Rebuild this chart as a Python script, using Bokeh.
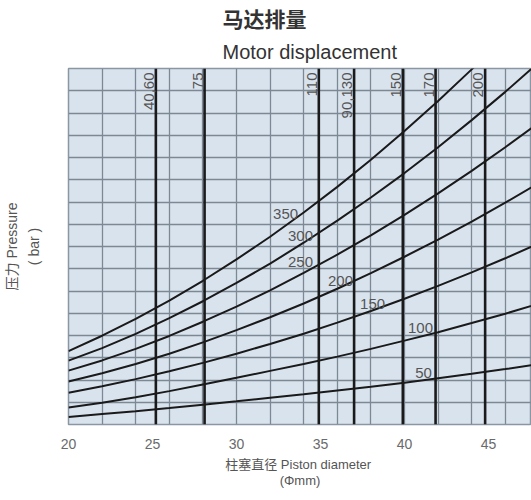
from bokeh.plotting import figure
from bokeh.models import FixedTicker, Range1d, Title, ColumnDataSource
from bokeh.core.properties import value
from bokeh.embed import file_html
from bokeh.resources import INLINE

# Piston diameter (mm)
diameter = [20, 22, 24, 26, 28, 30, 32, 34, 36, 38, 40, 42, 44, 46, 48]
# Curves, read in grid divisions above the bottom edge (16 divisions in the frame)
p50 = [0.34, 0.47, 0.60, 0.74, 0.89, 1.04, 1.20, 1.36, 1.53, 1.70, 1.88, 2.08, 2.28, 2.49, 2.71]
p100 = [0.76, 0.98, 1.22, 1.50, 1.80, 2.10, 2.41, 2.72, 3.05, 3.40, 3.77, 4.15, 4.56, 4.98, 5.43]
p150 = [1.43, 1.72, 2.04, 2.39, 2.77, 3.18, 3.62, 4.08, 4.58, 5.10, 5.65, 6.23, 6.84, 7.47, 8.14]
p200 = [1.93, 2.30, 2.72, 3.18, 3.69, 4.24, 4.82, 5.44, 6.10, 6.80, 7.54, 8.31, 9.12, 9.97, 10.85]
p250 = [2.42, 2.88, 3.40, 3.98, 4.62, 5.30, 6.03, 6.81, 7.63, 8.50, 9.42, 10.39, 11.40, 12.46, 13.56]
p300 = [2.87, 3.43, 4.07, 4.78, 5.54, 6.36, 7.23, 8.17, 9.16, 10.20, 11.30, 12.46, 13.68, 14.95, 16.28]
p350 = [3.30, 3.99, 4.75, 5.57, 6.46, 7.42, 8.44, 9.53, 10.68, 11.90, 13.19, 14.54, 15.96, 17.44, 18.99]
curves = [p50, p100, p150, p200, p250, p300, p350]

curve_labels = ["50", "100", "150", "200", "250", "300", "350"]
curve_label_x = [41.13, 40.95, 38.10, 36.19, 33.81, 33.81, 32.92]
curve_label_y = [2.33, 4.32, 5.43, 6.45, 7.29, 8.49, 9.46]

# Motor displacement marker lines
motor_x = [25.2, 28.1, 34.9, 37.0, 39.9, 41.85, 44.8]
motor_labels = ["40,60", "75", "110", "90,130", "150", "170", "200"]

x_ticks = [20, 25, 30, 35, 40, 45]
x_grid = [20, 22, 24, 26, 28, 30, 32, 34, 36, 38, 40, 42, 44, 46]
y_grid = list(range(0, 17))

TXT = "#555555"
FONT = "Liberation Sans, 'Noto Sans CJK SC'"

p = figure(frame_width=463, frame_height=356, x_range=Range1d(20, 47.56), y_range=Range1d(0, 16),
           output_backend="svg", toolbar_location=None,
           min_border_left=60, min_border_right=0, min_border_top=62, min_border_bottom=10)

p.background_fill_color = "#d9e3ee"
p.border_fill_color = "white"
p.outline_line_color = "#8a96a3"
p.outline_line_width = 1.5

p.xgrid.ticker = FixedTicker(ticks=x_grid)
p.ygrid.ticker = FixedTicker(ticks=y_grid)
for g in (p.xgrid, p.ygrid):
    g.grid_line_color = "#7d8895"
    g.grid_line_width = 1.3
    g.grid_line_alpha = 1.0

# axes
p.xaxis.ticker = FixedTicker(ticks=x_ticks)
p.xaxis.axis_line_color = None
p.xaxis.major_tick_line_color = None
p.xaxis.minor_tick_line_color = None
p.xaxis.major_label_text_font = "Liberation Sans"
p.xaxis.major_label_text_font_size = "14px"
p.xaxis.major_label_text_color = "#6a6a6a"
p.xaxis.major_label_standoff = 8
p.xaxis.axis_label = "柱塞直径  Piston diameter\n(Φmm)"
p.xaxis.axis_label_text_font = FONT
p.xaxis.axis_label_text_font_style = "normal"
p.xaxis.axis_label_text_font_size = "13px"
p.xaxis.axis_label_text_line_height = 1.1
p.xaxis.axis_label_text_color = TXT
p.xaxis.axis_label_standoff = 5

p.yaxis.ticker = FixedTicker(ticks=[])
p.yaxis.axis_line_color = None
p.yaxis.major_tick_line_color = None
p.yaxis.minor_tick_line_color = None
p.yaxis.major_label_standoff = 0
p.yaxis.axis_label = "压力 Pressure\n( bar )"
p.yaxis.axis_label_text_font = FONT
p.yaxis.axis_label_text_font_style = "normal"
p.yaxis.axis_label_text_font_size = "14px"
p.yaxis.axis_label_text_line_height = 1.35
p.yaxis.axis_label_text_color = TXT
p.yaxis.axis_label_standoff = 27

# curves
for ys in curves:
    p.line(diameter, ys, line_color="#1a1a1a", line_width=2)

# vertical displacement lines
p.segment(x0=motor_x, y0=[0] * len(motor_x), x1=motor_x, y1=[16] * len(motor_x),
          line_color="#1a1a1a", line_width=2.6)

msrc = ColumnDataSource(dict(x=motor_x, y=[16] * len(motor_x), t=motor_labels))
p.text(x="x", y="y", text="t", source=msrc, angle=1.5708, text_align="right",
       text_baseline="bottom", x_offset=-2, y_offset=4,
       text_font=value("Liberation Sans"), text_font_size="15px", text_color=TXT)

csrc = ColumnDataSource(dict(x=curve_label_x, y=curve_label_y, t=curve_labels))
p.text(x="x", y="y", text="t", source=csrc, text_align="center", text_baseline="middle",
       text_font=value("Liberation Sans"), text_font_size="15px", text_color=TXT)

# titles (later added = further from the plot)
p.add_layout(Title(text="Motor displacement", align="left", offset=154,
                   text_font="Liberation Sans", text_font_size="20px",
                   text_font_style="normal", text_color="#333333", standoff=12), "above")
p.add_layout(Title(text="马达排量", align="left", offset=154,
                   text_font="Noto Sans CJK SC", text_font_size="21px",
                   text_font_style="bold", text_color="#333333", standoff=0), "above")

open("out.html", "w").write(file_html(p, INLINE))
